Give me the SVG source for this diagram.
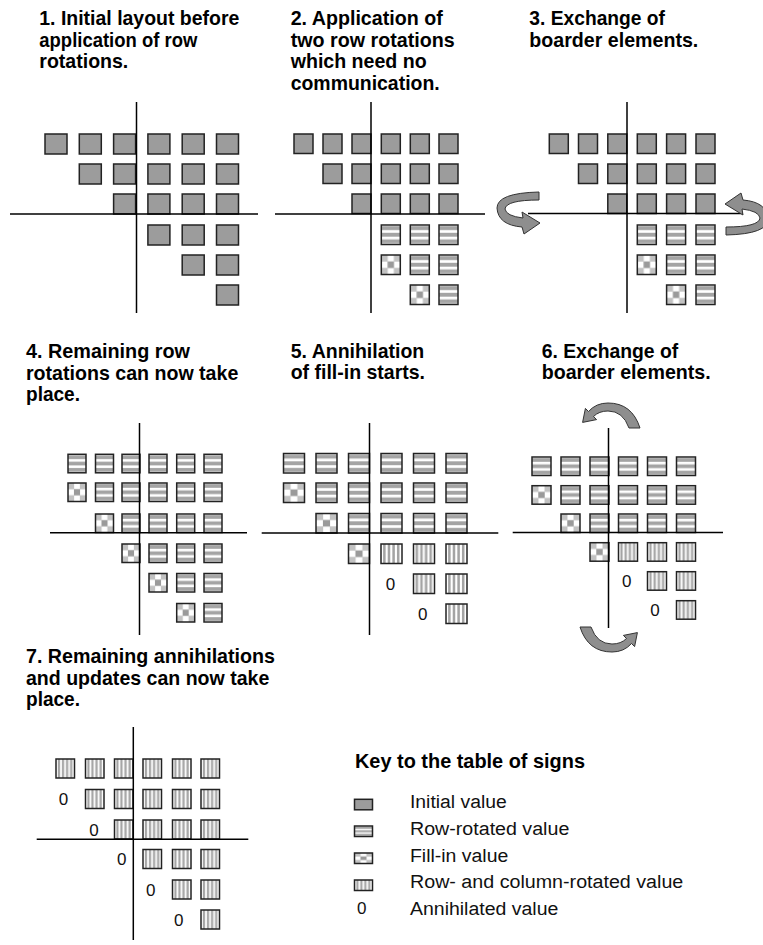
<svg xmlns="http://www.w3.org/2000/svg" xmlns:xlink="http://www.w3.org/1999/xlink" width="763" height="945" viewBox="0 0 763 945">
<style>
  .t { font-family: "Liberation Sans", Arial, sans-serif; font-weight: bold; font-size: 20.5px; fill: #000; }
  .k { font-family: "Liberation Sans", Arial, sans-serif; font-size: 18px; fill: #111; }
  .z { font-family: "Liberation Sans", Arial, sans-serif; font-size: 17px; fill: #111; text-anchor: middle; }
  .ax { stroke: #000; stroke-width: 1.5; fill: none; }
  .s { fill: #9c9c9c; stroke: #222; stroke-width: 1.5; }
  .h { fill: url(#ph); stroke: #222; stroke-width: 1.5; }
  .v { fill: url(#pv); stroke: #222; stroke-width: 1.5; }
  .f { fill: url(#pf); stroke: #222; stroke-width: 1.5; }
  .arr { fill: #8e8e8e; stroke: #333; stroke-width: 1; }
</style>
<defs>
  <pattern id="ph" patternContentUnits="objectBoundingBox" width="1" height="1">
    <rect width="1" height="1" fill="#fff"/>
    <rect y="0.06" width="1" height="0.2" fill="#a4a4a4"/>
    <rect y="0.4" width="1" height="0.2" fill="#a4a4a4"/>
    <rect y="0.74" width="1" height="0.2" fill="#a4a4a4"/>
  </pattern>
  <pattern id="pv" patternContentUnits="objectBoundingBox" width="1" height="1">
    <rect width="1" height="1" fill="#fff"/>
    <rect x="0.1" width="0.12" height="1" fill="#a4a4a4"/>
    <rect x="0.32" width="0.12" height="1" fill="#a4a4a4"/>
    <rect x="0.54" width="0.12" height="1" fill="#a4a4a4"/>
    <rect x="0.76" width="0.12" height="1" fill="#a4a4a4"/>
  </pattern>
  <pattern id="pf" patternContentUnits="objectBoundingBox" width="1" height="1">
    <rect width="1" height="1" fill="#fff"/>
    <rect x="0" y="0" width="0.34" height="0.34" fill="#c2c2c2"/>
    <rect x="0.66" y="0" width="0.34" height="0.34" fill="#c2c2c2"/>
    <rect x="0" y="0.66" width="0.34" height="0.34" fill="#c2c2c2"/>
    <rect x="0.66" y="0.66" width="0.34" height="0.34" fill="#c2c2c2"/>
    <rect x="0.33" y="0.33" width="0.34" height="0.34" fill="#9a9a9a"/>
  </pattern>
  <path id="arrH" d="M 539 192 Q 497 193 497 208 Q 498 225 522 227 L 524 234 L 540 223 L 522 212 L 523 218 Q 506 216 505 209 Q 506 200 539 200 Z"/>
  <path id="arrV" d="M 640 428 Q 632 403 608 403 Q 596 403 588.5 411.5 L 585.4 408.4 L 582.6 422.4 L 596.6 419.6 L 593.5 416.5 Q 599 411 608 411 Q 623 411 629 428 Z"/>
</defs>
<rect width="763" height="945" fill="#fff"/>

<g id="panel1">
  <text class="t" x="39.3" y="25" textLength="200" lengthAdjust="spacingAndGlyphs">1. Initial layout before</text>
  <text class="t" x="39.3" y="46.5" textLength="158" lengthAdjust="spacingAndGlyphs">application of row</text>
  <text class="t" x="39.3" y="68" textLength="89" lengthAdjust="spacingAndGlyphs">rotations.</text>
  <g>
    <rect class="s" x="45" y="134" width="22" height="20"/><rect class="s" x="79.3" y="134" width="22" height="20"/><rect class="s" x="113.6" y="134" width="22" height="20"/><rect class="s" x="147.9" y="134" width="22" height="20"/><rect class="s" x="182.2" y="134" width="22" height="20"/><rect class="s" x="216.5" y="134" width="22" height="20"/>
    <rect class="s" x="79.3" y="164" width="22" height="20"/><rect class="s" x="113.6" y="164" width="22" height="20"/><rect class="s" x="147.9" y="164" width="22" height="20"/><rect class="s" x="182.2" y="164" width="22" height="20"/><rect class="s" x="216.5" y="164" width="22" height="20"/>
    <rect class="s" x="113.6" y="194" width="22" height="20"/><rect class="s" x="147.9" y="194" width="22" height="20"/><rect class="s" x="182.2" y="194" width="22" height="20"/><rect class="s" x="216.5" y="194" width="22" height="20"/>
    <rect class="s" x="147.9" y="225" width="22" height="20"/><rect class="s" x="182.2" y="225" width="22" height="20"/><rect class="s" x="216.5" y="225" width="22" height="20"/>
    <rect class="s" x="182.2" y="255" width="22" height="20"/><rect class="s" x="216.5" y="255" width="22" height="20"/>
    <rect class="s" x="216.5" y="285" width="22" height="20"/>
  </g>
  <line class="ax" x1="136.5" y1="102" x2="136.5" y2="313"/>
  <line class="ax" x1="10" y1="214" x2="258" y2="214"/>
</g>

<g id="panel2">
  <text class="t" x="290.7" y="25" textLength="152" lengthAdjust="spacingAndGlyphs">2. Application of</text>
  <text class="t" x="290.7" y="46.5" textLength="164" lengthAdjust="spacingAndGlyphs">two row rotations</text>
  <text class="t" x="290.7" y="68" textLength="136" lengthAdjust="spacingAndGlyphs">which need no</text>
  <text class="t" x="290.7" y="89.5" textLength="149" lengthAdjust="spacingAndGlyphs">communication.</text>
  <g>
    <rect class="s" x="294" y="134" width="19" height="19.5"/><rect class="s" x="323" y="134" width="19" height="19.5"/><rect class="s" x="352" y="134" width="19" height="19.5"/><rect class="s" x="381.3" y="134" width="19" height="19.5"/><rect class="s" x="410.3" y="134" width="19" height="19.5"/><rect class="s" x="439" y="134" width="19" height="19.5"/>
    <rect class="s" x="323" y="164" width="19" height="19.5"/><rect class="s" x="352" y="164" width="19" height="19.5"/><rect class="s" x="381.3" y="164" width="19" height="19.5"/><rect class="s" x="410.3" y="164" width="19" height="19.5"/><rect class="s" x="439" y="164" width="19" height="19.5"/>
    <rect class="s" x="352" y="194" width="19" height="19.5"/><rect class="s" x="381.3" y="194" width="19" height="19.5"/><rect class="s" x="410.3" y="194" width="19" height="19.5"/><rect class="s" x="439" y="194" width="19" height="19.5"/>
    <rect class="h" x="381.3" y="225" width="19" height="19.5"/><rect class="h" x="410.3" y="225" width="19" height="19.5"/><rect class="h" x="439" y="225" width="19" height="19.5"/>
    <rect class="f" x="381.3" y="255" width="19" height="19.5"/><rect class="h" x="410.3" y="255" width="19" height="19.5"/><rect class="h" x="439" y="255" width="19" height="19.5"/>
    <rect class="f" x="410.3" y="285" width="19" height="19.5"/><rect class="h" x="439" y="285" width="19" height="19.5"/>
  </g>
  <line class="ax" x1="371" y1="102" x2="371" y2="313"/>
  <line class="ax" x1="275" y1="214" x2="485" y2="214"/>
</g>

<g id="panel3">
  <text class="t" x="529.3" y="25" textLength="135.7" lengthAdjust="spacingAndGlyphs">3. Exchange of</text>
  <text class="t" x="529.3" y="46.5" textLength="169" lengthAdjust="spacingAndGlyphs">boarder elements.</text>
  <g>
    <rect class="s" x="549.3" y="134" width="19" height="19.5"/><rect class="s" x="578.5" y="134" width="19" height="19.5"/><rect class="s" x="607.8" y="134" width="19" height="19.5"/><rect class="s" x="637.3" y="134" width="19" height="19.5"/><rect class="s" x="666.6" y="134" width="19" height="19.5"/><rect class="s" x="696" y="134" width="19" height="19.5"/>
    <rect class="s" x="578.5" y="164" width="19" height="19.5"/><rect class="s" x="607.8" y="164" width="19" height="19.5"/><rect class="s" x="637.3" y="164" width="19" height="19.5"/><rect class="s" x="666.6" y="164" width="19" height="19.5"/><rect class="s" x="696" y="164" width="19" height="19.5"/>
    <rect class="s" x="607.8" y="194" width="19" height="19.5"/><rect class="s" x="637.3" y="194" width="19" height="19.5"/><rect class="s" x="666.6" y="194" width="19" height="19.5"/><rect class="s" x="696" y="194" width="19" height="19.5"/>
    <rect class="h" x="637.3" y="225" width="19" height="19.5"/><rect class="h" x="666.6" y="225" width="19" height="19.5"/><rect class="h" x="696" y="225" width="19" height="19.5"/>
    <rect class="f" x="637.3" y="255" width="19" height="19.5"/><rect class="h" x="666.6" y="255" width="19" height="19.5"/><rect class="h" x="696" y="255" width="19" height="19.5"/>
    <rect class="f" x="666.6" y="285" width="19" height="19.5"/><rect class="h" x="696" y="285" width="19" height="19.5"/>
  </g>
  <line class="ax" x1="627" y1="102" x2="627" y2="313"/>
  <line class="ax" x1="528" y1="213.5" x2="743" y2="213.5"/>
</g>

<g id="panel4">
  <text class="t" x="26" y="358" textLength="164" lengthAdjust="spacingAndGlyphs">4. Remaining row</text>
  <text class="t" x="26" y="379.5" textLength="212.3" lengthAdjust="spacingAndGlyphs">rotations can now take</text>
  <text class="t" x="26" y="401" textLength="54" lengthAdjust="spacingAndGlyphs">place.</text>
  <g>
    <rect class="h" x="68" y="454.3" width="18" height="18.5"/><rect class="h" x="95.5" y="454.3" width="18" height="18.5"/><rect class="h" x="122" y="454.3" width="18" height="18.5"/><rect class="h" x="149" y="454.3" width="18" height="18.5"/><rect class="h" x="176.7" y="454.3" width="18" height="18.5"/><rect class="h" x="204" y="454.3" width="18" height="18.5"/>
    <rect class="f" x="68" y="483" width="18" height="18.5"/><rect class="h" x="95.5" y="483" width="18" height="18.5"/><rect class="h" x="122" y="483" width="18" height="18.5"/><rect class="h" x="149" y="483" width="18" height="18.5"/><rect class="h" x="176.7" y="483" width="18" height="18.5"/><rect class="h" x="204" y="483" width="18" height="18.5"/>
    <rect class="f" x="95.5" y="514" width="18" height="18.5"/><rect class="h" x="122" y="514" width="18" height="18.5"/><rect class="h" x="149" y="514" width="18" height="18.5"/><rect class="h" x="176.7" y="514" width="18" height="18.5"/><rect class="h" x="204" y="514" width="18" height="18.5"/>
    <rect class="f" x="122" y="544" width="18" height="18.5"/><rect class="h" x="149" y="544" width="18" height="18.5"/><rect class="h" x="176.7" y="544" width="18" height="18.5"/><rect class="h" x="204" y="544" width="18" height="18.5"/>
    <rect class="f" x="149" y="573.5" width="18" height="18.5"/><rect class="h" x="176.7" y="573.5" width="18" height="18.5"/><rect class="h" x="204" y="573.5" width="18" height="18.5"/>
    <rect class="f" x="176.7" y="603.5" width="18" height="18.5"/><rect class="h" x="204" y="603.5" width="18" height="18.5"/>
  </g>
  <line class="ax" x1="139.5" y1="423" x2="139.5" y2="635"/>
  <line class="ax" x1="50" y1="532.7" x2="247" y2="532.7"/>
</g>

<g id="panel5">
  <text class="t" x="290.7" y="357.5" textLength="133.6" lengthAdjust="spacingAndGlyphs">5. Annihilation</text>
  <text class="t" x="290.7" y="379" textLength="134.3" lengthAdjust="spacingAndGlyphs">of fill-in starts.</text>
  <g>
    <rect class="h" x="283.5" y="453.5" width="21" height="19.5"/><rect class="h" x="316" y="453.5" width="21" height="19.5"/><rect class="h" x="348.5" y="453.5" width="21" height="19.5"/><rect class="h" x="381" y="453.5" width="21" height="19.5"/><rect class="h" x="413.5" y="453.5" width="21" height="19.5"/><rect class="h" x="446" y="453.5" width="21" height="19.5"/>
    <rect class="f" x="283.5" y="483" width="21" height="19.5"/><rect class="h" x="316" y="483" width="21" height="19.5"/><rect class="h" x="348.5" y="483" width="21" height="19.5"/><rect class="h" x="381" y="483" width="21" height="19.5"/><rect class="h" x="413.5" y="483" width="21" height="19.5"/><rect class="h" x="446" y="483" width="21" height="19.5"/>
    <rect class="f" x="316" y="513.5" width="21" height="19.5"/><rect class="h" x="348.5" y="513.5" width="21" height="19.5"/><rect class="h" x="381" y="513.5" width="21" height="19.5"/><rect class="h" x="413.5" y="513.5" width="21" height="19.5"/><rect class="h" x="446" y="513.5" width="21" height="19.5"/>
    <rect class="f" x="348.5" y="544" width="21" height="19.5"/><rect class="v" x="381" y="544" width="21" height="19.5"/><rect class="v" x="413.5" y="544" width="21" height="19.5"/><rect class="v" x="446" y="544" width="21" height="19.5"/>
    <text class="z" x="390.5" y="589.8">0</text><rect class="v" x="413.5" y="574" width="21" height="19.5"/><rect class="v" x="446" y="574" width="21" height="19.5"/>
    <text class="z" x="422.8" y="619.8">0</text><rect class="v" x="446" y="604" width="21" height="19.5"/>
  </g>
  <line class="ax" x1="369.5" y1="423" x2="369.5" y2="635"/>
  <line class="ax" x1="261.7" y1="533" x2="498.3" y2="533"/>
</g>

<g id="panel6">
  <text class="t" x="541.7" y="357.5" textLength="136.6" lengthAdjust="spacingAndGlyphs">6. Exchange of</text>
  <text class="t" x="541.7" y="379" textLength="169" lengthAdjust="spacingAndGlyphs">boarder elements.</text>
  <g>
    <rect class="h" x="532" y="457" width="19" height="18.5"/><rect class="h" x="561" y="457" width="19" height="18.5"/><rect class="h" x="590" y="457" width="19" height="18.5"/><rect class="h" x="618.5" y="457" width="19" height="18.5"/><rect class="h" x="647.5" y="457" width="19" height="18.5"/><rect class="h" x="676.5" y="457" width="19" height="18.5"/>
    <rect class="f" x="532" y="485.7" width="19" height="18.5"/><rect class="h" x="561" y="485.7" width="19" height="18.5"/><rect class="h" x="590" y="485.7" width="19" height="18.5"/><rect class="h" x="618.5" y="485.7" width="19" height="18.5"/><rect class="h" x="647.5" y="485.7" width="19" height="18.5"/><rect class="h" x="676.5" y="485.7" width="19" height="18.5"/>
    <rect class="f" x="561" y="514" width="19" height="18.5"/><rect class="h" x="590" y="514" width="19" height="18.5"/><rect class="h" x="618.5" y="514" width="19" height="18.5"/><rect class="h" x="647.5" y="514" width="19" height="18.5"/><rect class="h" x="676.5" y="514" width="19" height="18.5"/>
    <rect class="f" x="590" y="542.7" width="19" height="18.5"/><rect class="v" x="618.5" y="542.7" width="19" height="18.5"/><rect class="v" x="647.5" y="542.7" width="19" height="18.5"/><rect class="v" x="676.5" y="542.7" width="19" height="18.5"/>
    <text class="z" x="626.8" y="587">0</text><rect class="v" x="647.5" y="571.7" width="19" height="18.5"/><rect class="v" x="676.5" y="571.7" width="19" height="18.5"/>
    <text class="z" x="655" y="616">0</text><rect class="v" x="676.5" y="600.7" width="19" height="18.5"/>
  </g>
  <line class="ax" x1="608.5" y1="428" x2="608.5" y2="628"/>
  <line class="ax" x1="512.7" y1="532.5" x2="723" y2="532.5"/>
</g>

<g id="panel7">
  <text class="t" x="26" y="663" textLength="249" lengthAdjust="spacingAndGlyphs">7. Remaining annihilations</text>
  <text class="t" x="26" y="684.5" textLength="243.3" lengthAdjust="spacingAndGlyphs">and updates can now take</text>
  <text class="t" x="26" y="706" textLength="54" lengthAdjust="spacingAndGlyphs">place.</text>
  <g>
    <rect class="v" x="56" y="759" width="18.5" height="19"/><rect class="v" x="85.5" y="759" width="18.5" height="19"/><rect class="v" x="114.5" y="759" width="18.5" height="19"/><rect class="v" x="143" y="759" width="18.5" height="19"/><rect class="v" x="172.5" y="759" width="18.5" height="19"/><rect class="v" x="201" y="759" width="18.5" height="19"/>
    <text class="z" x="63.5" y="805">0</text><rect class="v" x="85.5" y="789.5" width="18.5" height="19"/><rect class="v" x="114.5" y="789.5" width="18.5" height="19"/><rect class="v" x="143" y="789.5" width="18.5" height="19"/><rect class="v" x="172.5" y="789.5" width="18.5" height="19"/><rect class="v" x="201" y="789.5" width="18.5" height="19"/>
    <text class="z" x="94" y="835.5">0</text><rect class="v" x="114.5" y="820" width="18.5" height="19"/><rect class="v" x="143" y="820" width="18.5" height="19"/><rect class="v" x="172.5" y="820" width="18.5" height="19"/><rect class="v" x="201" y="820" width="18.5" height="19"/>
    <text class="z" x="121.8" y="865">0</text><rect class="v" x="143" y="849.5" width="18.5" height="19"/><rect class="v" x="172.5" y="849.5" width="18.5" height="19"/><rect class="v" x="201" y="849.5" width="18.5" height="19"/>
    <text class="z" x="150.7" y="895.5">0</text><rect class="v" x="172.5" y="880" width="18.5" height="19"/><rect class="v" x="201" y="880" width="18.5" height="19"/>
    <text class="z" x="178.8" y="925.5">0</text><rect class="v" x="201" y="910" width="18.5" height="19"/>
  </g>
  <line class="ax" x1="133.3" y1="727" x2="133.3" y2="940"/>
  <line class="ax" x1="36.7" y1="839.3" x2="248.3" y2="839.3"/>
</g>

<g id="key">
  <text class="t" x="355" y="768" textLength="230" lengthAdjust="spacingAndGlyphs">Key to the table of signs</text>
  <rect class="s" x="354.5" y="799.3" width="18" height="10.5"/>
  <text class="k" x="410" y="808" textLength="96.7" lengthAdjust="spacingAndGlyphs">Initial value</text>
  <rect class="h" x="354.5" y="826" width="18" height="10.5"/>
  <text class="k" x="410" y="835" textLength="159.3" lengthAdjust="spacingAndGlyphs">Row-rotated value</text>
  <rect class="f" x="354.5" y="853" width="18" height="10.5"/>
  <text class="k" x="410" y="861.7" textLength="98.3" lengthAdjust="spacingAndGlyphs">Fill-in value</text>
  <rect class="v" x="354.5" y="880" width="18" height="10.5"/>
  <text class="k" x="410" y="888.3" textLength="273.3" lengthAdjust="spacingAndGlyphs">Row- and column-rotated value</text>
  <text class="z" x="361.7" y="914">0</text>
  <text class="k" x="410" y="915" textLength="148.3" lengthAdjust="spacingAndGlyphs">Annihilated value</text>
</g>

<g id="connectors">
  <use xlink:href="#arrH" class="arr"/>
  <use xlink:href="#arrH" class="arr" transform="rotate(180 632.5 213.5)"/>
  <use xlink:href="#arrV" class="arr"/>
  <use xlink:href="#arrV" class="arr" transform="rotate(180 610 527.5)"/>
</g>
</svg>
